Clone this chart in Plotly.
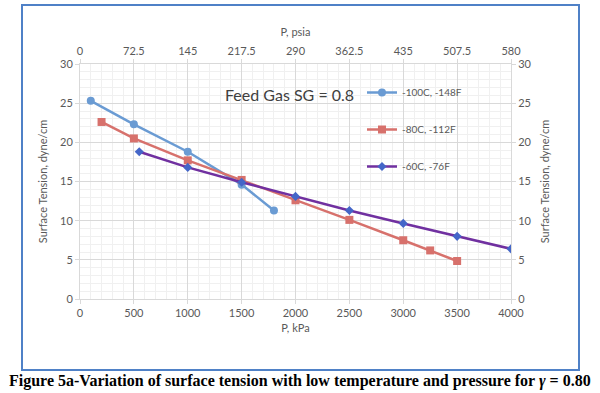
import plotly.graph_objects as go

# Data (pressure kPa, surface tension dyne/cm)
p_100 = [100, 500, 1000, 1500, 1800]
st_100 = [25.3, 22.3, 18.8, 14.6, 11.3]
p_80 = [200, 500, 1000, 1500, 2000, 2500, 3000, 3250, 3500]
st_80 = [22.6, 20.5, 17.7, 15.2, 12.6, 10.1, 7.5, 6.2, 4.85]
p_60 = [550, 1000, 1500, 2000, 2500, 3000, 3500, 4000]
st_60 = [18.8, 16.8, 14.9, 13.1, 11.3, 9.65, 8.0, 6.4]

names = ["-100C, -148F", "-80C, -112F", "-60C, -76F"]
kpa_ticks = [0, 500, 1000, 1500, 2000, 2500, 3000, 3500, 4000]
psia_ticks = [0, 72.5, 145, 217.5, 290, 362.5, 435, 507.5, 580]
psia_labels = ["0", "72.5", "145", "217.5", "290", "362.5", "435", "507.5", "580"]
y_ticks = [0, 5, 10, 15, 20, 25, 30]

FONT = "Lato"
TICKC = "#595959"

fig = go.Figure()
fig.add_trace(go.Scatter(x=p_100, y=st_100, name=names[0], mode="lines+markers",
                         line=dict(color="#6A9BD3", width=2.5),
                         marker=dict(symbol="circle", size=8, color="#6A9BD3"),
                         legendgroup="a"))
fig.add_trace(go.Scatter(x=p_80, y=st_80, name=names[1], mode="lines+markers",
                         line=dict(color="#D7716C", width=2.5),
                         marker=dict(symbol="square", size=8, color="#D7716C"),
                         legendgroup="b"))
fig.add_trace(go.Scatter(x=p_60, y=st_60, name=names[2], mode="lines+markers",
                         line=dict(color="#7030A0", width=2.5),
                         marker=dict(symbol="diamond", size=7, color="#4466C8"),
                         legendgroup="c"))

W, H = 600, 393
L, R, T, B = 80, 511, 64, 299

def px(x):
    return (x - L) / (R - L)

def py(y):
    return (B - y) / (B - T)

axis_common = dict(
    showline=True, linecolor="#D9D9D9", linewidth=1,
    ticks="outside", ticklen=4, tickcolor="#D9D9D9",
    tickfont=dict(family=FONT, size=11, color=TICKC),
    zeroline=False, automargin=False,
)

fig.update_layout(
    width=W, height=H,
    margin=dict(l=L, r=W - R, t=T, b=H - B, autoexpand=False),
    paper_bgcolor="white", plot_bgcolor="white",
    font=dict(family=FONT, color=TICKC),
    xaxis=dict(range=[0, 4000], tickvals=kpa_ticks,
               showgrid=True, gridcolor="#D9D9D9", gridwidth=1,
               minor=dict(dtick=100, showgrid=True, gridcolor="#F0F0F0", ticks=""),
               title=dict(text="P, kPa", font=dict(family=FONT, size=11, color=TICKC), standoff=6),
               **axis_common),
    xaxis2=dict(range=[0, 580], tickvals=psia_ticks, ticktext=psia_labels,
                overlaying="x", side="top", showgrid=False,
                title=dict(text="P, psia", font=dict(family=FONT, size=11, color=TICKC), standoff=4),
                **axis_common),
    yaxis=dict(range=[0, 30], tickvals=y_ticks,
               showgrid=True, gridcolor="#D9D9D9", gridwidth=1,
               minor=dict(dtick=1, showgrid=True, gridcolor="#F0F0F0", ticks=""),
               title=dict(text="Surface Tension, dyne/cm", font=dict(family=FONT, size=11, color=TICKC), standoff=10),
               **axis_common),
    yaxis2=dict(range=[0, 30], tickvals=y_ticks, overlaying="y", side="right", showgrid=False,
                title=dict(text="Surface Tension, dyne/cm", font=dict(family=FONT, size=11, color=TICKC), standoff=10),
                **axis_common),
    legend=dict(x=px(362), y=py(78), xanchor="left", yanchor="top",
                bgcolor="rgba(0,0,0,0)", font=dict(family=FONT, size=10, color=TICKC),
                tracegroupgap=18, itemwidth=30),
    showlegend=True,
)

# invisible trace to activate the secondary axes
fig.add_trace(go.Scatter(x=[None], y=[None], xaxis="x2", yaxis="y2", showlegend=False, hoverinfo="skip"))

fig.add_annotation(text="Feed Gas SG = 0.8", xref="paper", yref="paper",
                   x=px(223), y=py(94), xanchor="left", yanchor="middle",
                   showarrow=False, font=dict(family=FONT, size=16, color="#404040"))

fig.add_annotation(text="<b>Figure 5a-Variation of surface tension with low temperature and pressure for <i>γ</i> = 0.80</b>",
                   xref="paper", yref="paper", x=px(300), y=py(381), xanchor="center", yanchor="middle",
                   showarrow=False, font=dict(family="Liberation Serif", size=16, color="black"))

fig.add_shape(type="rect", xref="paper", yref="paper",
              x0=px(22), x1=px(579), y0=py(370), y1=py(5),
              line=dict(color="#4F81C7", width=2), fillcolor="rgba(0,0,0,0)", layer="below")

fig.write_html("out.html", config={"displayModeBar": False},
               post_script="document.body.style.margin='0';document.body.style.overflow='hidden';")
